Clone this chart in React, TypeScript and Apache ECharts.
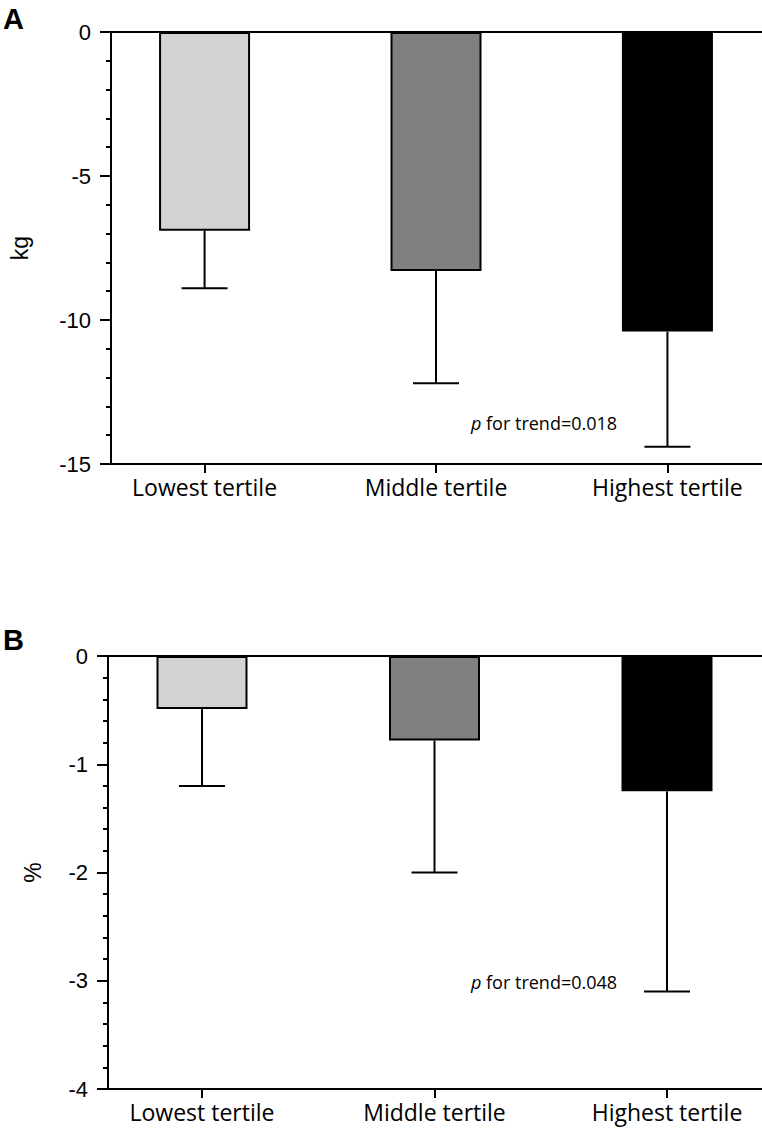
import React, { useEffect, useRef } from "react";
import * as echarts from "echarts";

const categories = ["Lowest tertile", "Middle tertile", "Highest tertile"];
const barColors = ["#d3d3d3", "#808080", "#000000"];

const meansA = [-6.9, -8.3, -10.4];
const errEndA = [-8.9, -12.2, -14.4];
const meansB = [-0.49, -0.78, -1.25];
const errEndB = [-1.2, -2.0, -3.1];

const yTicksA = { min: -15, max: 0, interval: 5 };
const yTicksB = { min: -4, max: 0, interval: 1 };
const pTextA = "0.018";
const pTextB = "0.048";

const positions = [0, 1, 2];
const X_MIN = -0.4043;
const X_MAX = 2.4086;

const FONT_NUM = "Liberation Sans, Arial, sans-serif";
const FONT_CAT = "'Open Sans', Lato, sans-serif";

function bottomAxis(gridIndex: number) {
  return {
    type: "value",
    gridIndex,
    min: X_MIN,
    max: X_MAX,
    position: "bottom",
    axisLine: { show: true, onZero: false, lineStyle: { color: "#000", width: 2 } },
    axisTick: {
      show: true,
      length: 9,
      customValues: positions,
      lineStyle: { color: "#000", width: 2 },
    },
    axisLabel: {
      show: true,
      customValues: positions,
      margin: 11,
      color: "#000",
      fontFamily: FONT_CAT,
      fontSize: 23,
      formatter: (v: number) => categories[Math.round(v)] ?? "",
    },
    splitLine: { show: false },
  };
}

function topAxis(gridIndex: number) {
  return {
    type: "value",
    gridIndex,
    min: X_MIN,
    max: X_MAX,
    position: "top",
    axisLine: { show: true, onZero: false, lineStyle: { color: "#000", width: 2 } },
    axisTick: { show: false },
    axisLabel: { show: false },
    splitLine: { show: false },
  };
}

function yAxis(gridIndex: number, t: { min: number; max: number; interval: number }, name: string, nameGap: number) {
  return {
    type: "value",
    gridIndex,
    min: t.min,
    max: t.max,
    interval: t.interval,
    name,
    nameLocation: "middle",
    nameGap,
    nameTextStyle: { color: "#000", fontFamily: FONT_NUM, fontSize: 23 },
    axisLine: { show: true, onZero: false, lineStyle: { color: "#000", width: 2 } },
    axisTick: { show: true, length: 11, lineStyle: { color: "#000", width: 2 } },
    minorTick: { show: true, splitNumber: 5, length: 5, lineStyle: { color: "#000", width: 2 } },
    axisLabel: { color: "#000", fontFamily: FONT_NUM, fontSize: 22, margin: 20 },
    splitLine: { show: false },
    minorSplitLine: { show: false },
  };
}

function barSeries(xIdx: number, yIdx: number, means: number[]) {
  return {
    type: "bar",
    xAxisIndex: xIdx,
    yAxisIndex: yIdx,
    barWidth: 91,
    data: means.map((m, i) => ({
      value: [positions[i], m],
      itemStyle: { color: barColors[i], borderColor: "#000", borderWidth: 2 },
    })),
  };
}

function errSeries(xIdx: number, yIdx: number, means: number[], ends: number[]) {
  return {
    type: "custom",
    xAxisIndex: xIdx,
    yAxisIndex: yIdx,
    z: 5,
    data: means.map((m, i) => [positions[i], m, ends[i]]),
    renderItem: (params: any, api: any) => {
      const x = api.value(0);
      const p1 = api.coord([x, api.value(1)]);
      const p2 = api.coord([x, api.value(2)]);
      const half = 23;
      const style = { stroke: "#000", lineWidth: 2, fill: "none" };
      return {
        type: "group",
        children: [
          { type: "line", shape: { x1: p1[0], y1: p1[1], x2: p2[0], y2: p2[1] }, style },
          { type: "line", shape: { x1: p2[0] - half, y1: p2[1], x2: p2[0] + half, y2: p2[1] }, style },
        ],
      };
    },
  };
}

function pText(left: number, top: number, value: string) {
  return {
    type: "text",
    left,
    top,
    style: {
      text: `{i|p} for trend=${value}`,
      rich: {
        i: { fontStyle: "italic", fontFamily: FONT_CAT, fontSize: 18, fill: "#000" },
      },
      fontFamily: FONT_CAT,
      fontSize: 18,
      fill: "#000",
    },
  };
}

export default function App() {
  const ref = useRef<HTMLDivElement>(null);
  useEffect(() => {
    if (!ref.current) return;
    const chart = echarts.init(ref.current, null, { renderer: "svg" });
    chart.setOption({
      animation: false,
      backgroundColor: "#fff",
      grid: [
        { left: 108, top: 32, width: 654, height: 432 },
        { left: 108, top: 656, width: 654, height: 433 },
      ],
      xAxis: [bottomAxis(0), topAxis(0), bottomAxis(1), topAxis(1)],
      yAxis: [yAxis(0, yTicksA, "kg", 80), yAxis(1, yTicksB, "%", 64)],
      series: [
        barSeries(0, 0, meansA),
        errSeries(0, 0, meansA, errEndA),
        barSeries(2, 1, meansB),
        errSeries(2, 1, meansB, errEndB),
      ],
      graphic: [
        { type: "text", left: 3, top: 4, style: { text: "A", fontFamily: FONT_NUM, fontWeight: "bold", fontSize: 29, fill: "#000" } },
        { type: "text", left: 3, top: 625, style: { text: "B", fontFamily: FONT_NUM, fontWeight: "bold", fontSize: 29, fill: "#000" } },
        pText(471, 414, pTextA),
        pText(471, 973, pTextB),
      ],
    });
    return () => chart.dispose();
  }, []);
  return (
    <div
      ref={ref}
      style={{ position: "fixed", left: 0, top: 0, width: 762, height: 1133, background: "#fff" }}
    />
  );
}
